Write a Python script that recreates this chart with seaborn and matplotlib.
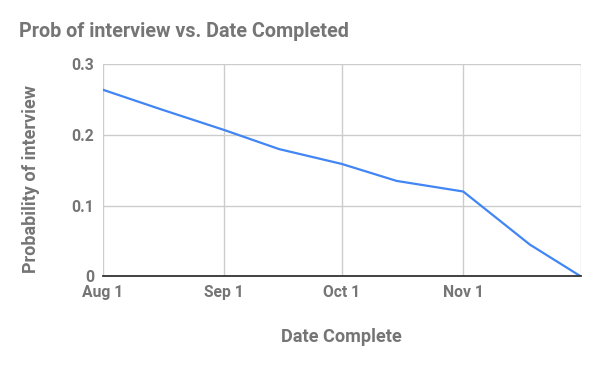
import matplotlib
matplotlib.use("Agg")
import matplotlib.pyplot as plt
import seaborn as sns
import pandas as pd

dates = ["2017-08-01", "2017-08-16", "2017-09-01", "2017-09-15", "2017-10-01",
         "2017-10-15", "2017-11-01", "2017-11-18", "2017-12-01"]
probs = [0.264, 0.236, 0.207, 0.180, 0.159, 0.135, 0.120, 0.045, 0.0]
xticks = ["2017-08-01", "2017-09-01", "2017-10-01", "2017-11-01"]
xtick_labels = ["Aug 1", "Sep 1", "Oct 1", "Nov 1"]
yticks = [0, 0.1, 0.2, 0.3]
ytick_labels = ["0", "0.1", "0.2", "0.3"]

df = pd.DataFrame({"date": pd.to_datetime(dates), "prob": probs})

sns.set_theme(style="white")
plt.rcParams["font.family"] = ["Roboto", "DejaVu Sans"]

gray = "#757575"
fig = plt.figure(figsize=(6, 3.71), dpi=100)
ax = fig.add_axes([0.171, 0.255, 0.797, 0.572])

sns.lineplot(data=df, x="date", y="prob", ax=ax, color="#4285F4", linewidth=1.6)

ax.set_xlim(pd.Timestamp("2017-08-01"), pd.Timestamp("2017-12-01"))
ax.set_ylim(0, 0.3)
ax.set_xticks(pd.to_datetime(xticks + ["2017-12-01"]))
ax.set_xticklabels(xtick_labels + [""])
ax.set_yticks(yticks)
ax.set_yticklabels(ytick_labels)

ax.grid(True, color="#cccccc", linewidth=1)
for s in ["left", "right", "top"]:
    ax.spines[s].set_visible(False)
ax.spines["bottom"].set_color("#333333")
ax.spines["bottom"].set_linewidth(1.3)
ax.spines["bottom"].set_zorder(3)

ax.tick_params(axis="both", length=0, labelsize=11.3, labelcolor=gray)
ax.tick_params(axis="x", pad=6)
ax.tick_params(axis="y", pad=6)
for lab in ax.get_xticklabels() + ax.get_yticklabels():
    lab.set_fontweight("bold")

ax.set_xlabel("Date Complete", fontsize=13.1, fontweight="bold", color=gray, labelpad=20)
ax.set_ylabel("Probability of interview", fontsize=13, fontweight="bold", color=gray)
ax.yaxis.set_label_coords(-0.131, 0.461)

fig.text(0.032, 0.915, "Prob of interview vs. Date Completed", fontsize=14.2,
         fontweight="bold", color=gray, ha="left", va="center")

fig.savefig("out.png", dpi=100, facecolor="white")
